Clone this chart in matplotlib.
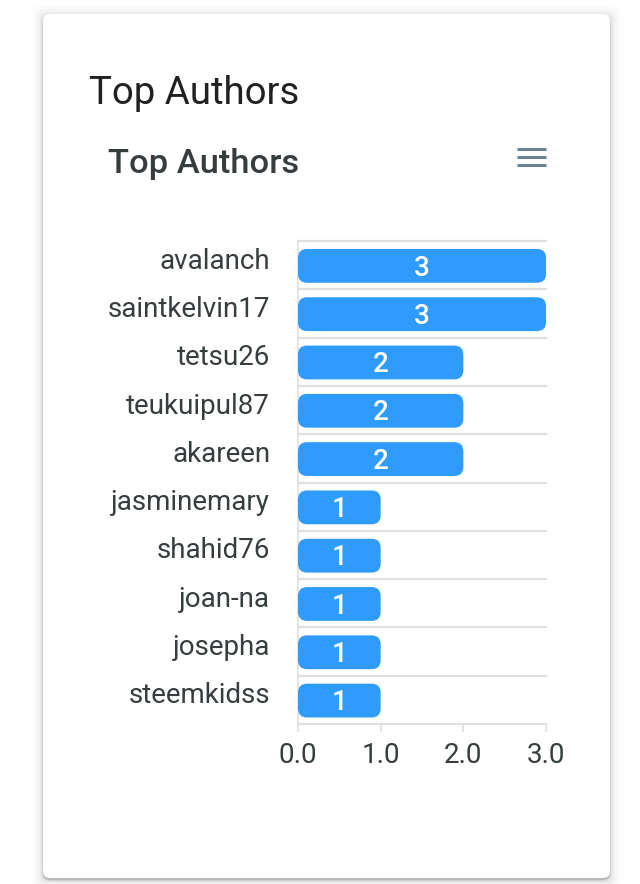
import matplotlib
matplotlib.use('Agg')
import matplotlib.pyplot as plt
from matplotlib.patches import FancyBboxPatch
import numpy as np

plt.rcParams['font.family'] = ['Roboto', 'DejaVu Sans']

authors = ['avalanch', 'saintkelvin17', 'tetsu26', 'teukuipul87', 'akareen',
           'jasminemary', 'shahid76', 'joan-na', 'josepha', 'steemkidss']
posts = [3, 3, 2, 2, 2, 1, 1, 1, 1, 1]
xticks = [0, 1, 2, 3]

W, H = 640, 884
fig = plt.figure(figsize=(W / 100, H / 100), dpi=100, facecolor='white')

# page layer in pixel coords, y pointing down
bg = fig.add_axes([0, 0, 1, 1])
bg.set_xlim(0, W)
bg.set_ylim(H, 0)
bg.axis('off')

# card shadow
for grow, alpha, dy in [(11, 0.008, 2), (9, 0.012, 2), (7, 0.016, 2), (5, 0.02, 2), (3, 0.03, 2), (1.5, 0.05, 2), (0.3, 0.16, 2)]:
    bg.add_patch(FancyBboxPatch((43 - grow, 14 - grow + dy), 567 + 2 * grow, 864 + 2 * grow,
                                boxstyle='round,pad=0,rounding_size=8', fc='black', ec='none', alpha=alpha))
bg.add_patch(FancyBboxPatch((43, 14), 567, 864, boxstyle='round,pad=0,rounding_size=7', fc='white', ec='none'))

bg.text(89, 93, 'Top Authors', fontsize=27.6, color='#212121', va='center', ha='left')
bg.text(108, 164, 'Top Authors', fontsize=24.8, color='#373d3f', va='center', ha='left', fontweight='medium')

# hamburger menu icon
for y in [149, 157, 165]:
    bg.plot([517, 546], [y, y], color='#6e8192', lw=2.2, solid_capstyle='butt')

ax = fig.add_axes([298 / W, 1 - 724 / H, (546 - 298) / W, (724 - 241) / H])
ax.patch.set_alpha(0)
ax.set_xlim(0, 3)
ax.set_ylim(len(authors), 0)

# band lines
for i in range(len(authors) + 1):
    ax.axhline(i, color='#e0e0e0', lw=1.6, zorder=1, clip_on=False)

bar_h = 0.70
bar_shift = 0.015
aspect = (483 / 10) ** -1 / (248 / 3) ** -1
for i, v in enumerate(posts):
    ax.add_patch(FancyBboxPatch((0, i + 0.5 - bar_h / 2 + bar_shift), v, bar_h,
                                boxstyle='round,pad=0,rounding_size=0.11',
                                mutation_aspect=aspect, fc='#2e9bfd', ec='none', zorder=3))
    ax.text(v / 2, i + 0.56, str(v), color='white', fontsize=20, fontweight='medium',
            ha='center', va='center', zorder=4)

for s in ['top', 'right', 'bottom']:
    ax.spines[s].set_visible(False)
ax.spines['left'].set_color('#e0e0e0')
ax.spines['left'].set_linewidth(1.2)

ax.set_xticks(xticks)
ax.set_xticklabels(['%.1f' % t for t in xticks], fontsize=20, color='#373d3f')
ax.tick_params(axis='x', length=6, width=1.2, color='#e0e0e0', pad=7)

ax.set_yticks(np.arange(len(authors)) + 0.5)
ax.set_yticklabels(authors, fontsize=20, color='#373d3f', va='center')
ax.tick_params(axis='y', length=0, pad=20)
for lab in ax.get_yticklabels():
    lab.set_transform(lab.get_transform() + matplotlib.transforms.ScaledTranslation(0, 4 / 100, fig.dpi_scale_trans))

fig.savefig('out.png', dpi=100)
